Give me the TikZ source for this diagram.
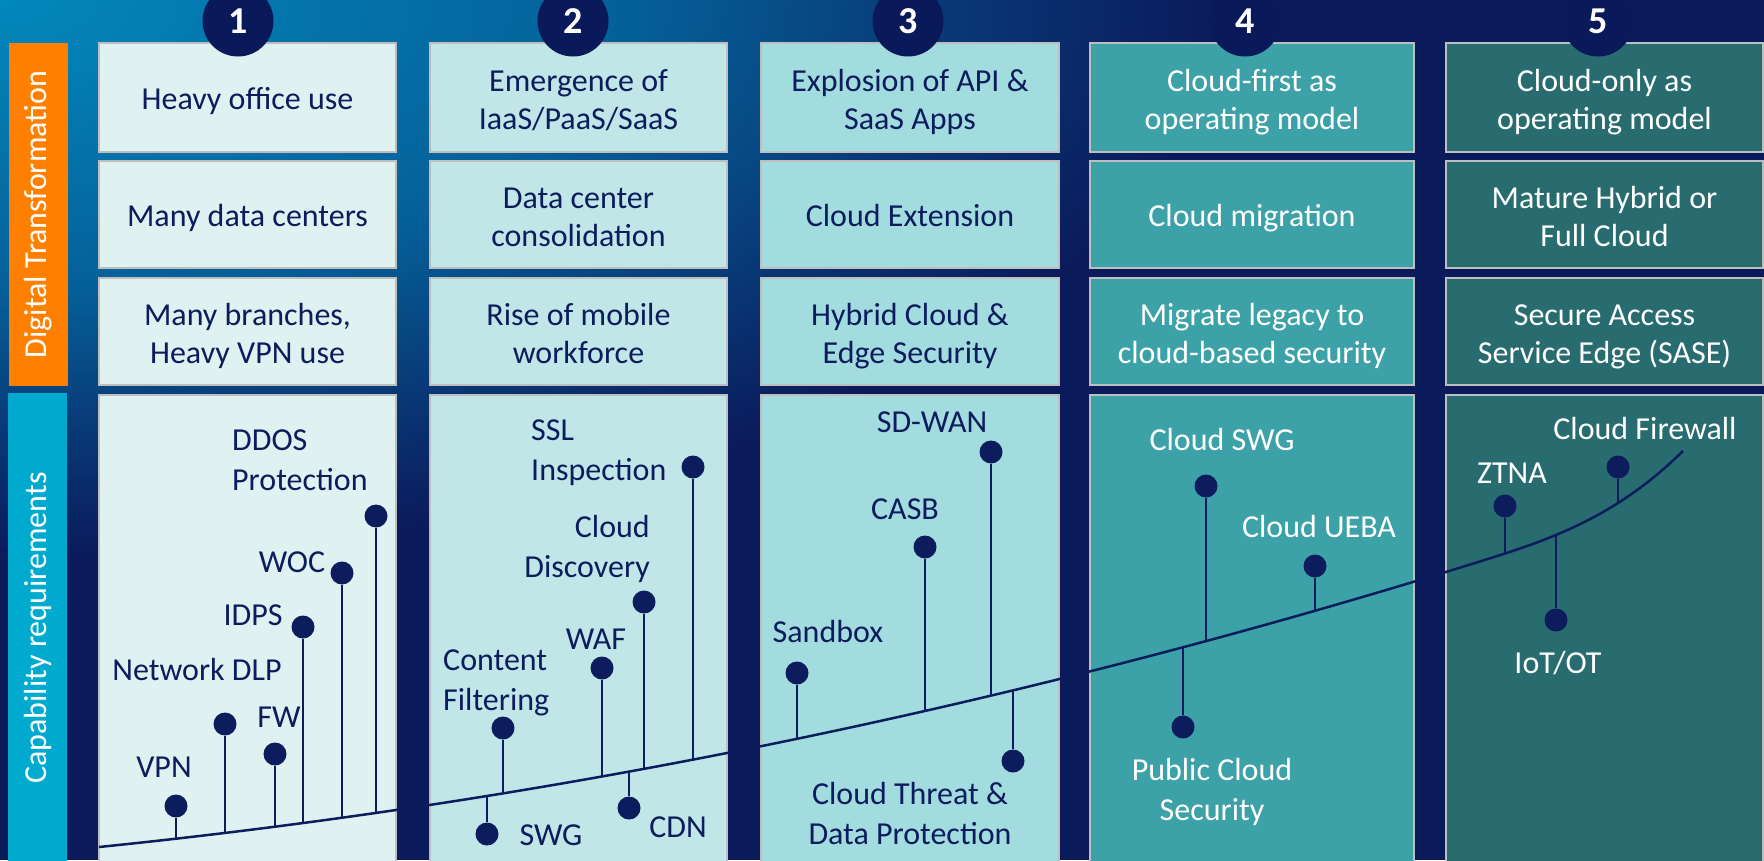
\documentclass[tikz,border=0pt]{standalone}
\usepackage{fontspec}
\setmainfont{Carlito}
\definecolor{bgA}{RGB}{2,136,188}
\definecolor{bgB}{RGB}{11,26,91}
\colorlet{bgM1}{bgA!63!bgB}
\colorlet{bgM2}{bgA!27!bgB}
\definecolor{ink}{RGB}{12,28,92}
\definecolor{badgec}{RGB}{10,25,90}
\definecolor{rim}{RGB}{190,190,190}
\definecolor{c1}{RGB}{223,242,241}
\definecolor{c2}{RGB}{192,230,231}
\definecolor{c3}{RGB}{162,220,223}
\definecolor{c4}{RGB}{60,162,167}
\definecolor{c5}{RGB}{40,108,112}
\definecolor{barorange}{RGB}{255,128,0}
\definecolor{barcyan}{RGB}{0,170,206}
% glow from the upper left corner; the path's extent maps to 25bp
\pgfdeclareradialshading{bgglow}{\pgfpoint{0bp}{0bp}}{color(0bp)=(bgA); color(13bp)=(bgM1); color(19.5bp)=(bgM2); color(25bp)=(bgB); color(50bp)=(bgB)}
\begin{document}
\begin{tikzpicture}[x=1pt,y=-1pt,
  declare function={gy(\t)=847-10.21*((\t-99)/100)-0.758*((\t-99)/100)^2-5.2*(max(0,(\t-99)/100-13.8))^3;},
  cell/.style={draw=rim, line width=2.5pt, inner sep=2pt, align=center, font=\fontsize{32}{38}\selectfont},
  single/.style={text height=24pt, text depth=0pt},
  double/.style={text height=64.6pt, text depth=0pt},
  k1/.style={fill=c1, text=ink, minimum width=297pt},
  k2/.style={fill=c2, text=ink, minimum width=297pt},
  k3/.style={fill=c3, text=ink, minimum width=298pt},
  k4/.style={fill=c4, text=white, minimum width=324pt},
  k5/.style={fill=c5, text=white, minimum width=317pt},
  r1/.style={minimum height=109pt},
  r2/.style={minimum height=107pt},
  r3/.style={minimum height=107pt},
  r4/.style={minimum height=471pt},
  sidebar/.style={rotate=90, inner sep=0pt, text=white, font=\fontsize{32}{38}\selectfont},
  badge/.style={circle, fill=badgec, minimum size=71pt, inner sep=0pt, text=white, font=\bfseries\fontsize{38}{38}\selectfont},
  dot/.style={circle, fill=ink, minimum size=23pt, inner sep=0pt},
  stem/.style={draw=ink, line width=2pt},
  trend/.style={draw=ink, line width=2.5pt},
  lbl/.style={inner sep=0pt, font=\fontsize{32}{40}\selectfont},
  one/.style={text height=21pt, text depth=0pt},
  dk/.style={text=ink},
  wt/.style={text=white}]

\useasboundingbox (0,0) rectangle (1764,860);
\clip (0,0) rectangle (1764,860);

% background glow
\fill[bgB] (0,0) rectangle (1764,860);
\shade[shading=bgglow] (0,0) ellipse (1220 and 560);

% side bars
\node[sidebar, fill=barorange, minimum width=343pt, minimum height=59pt] (dt) at (38.5,214.5) {Digital Transformation};
\node[sidebar, fill=barcyan, minimum width=470pt, minimum height=59pt] (cr) at (37.5,628) {Capability requirements};

% stage columns
\node[cell,k1,r1,single] (a1) at (247.5,97.5) {Heavy office use};
\node[cell,k1,r2,single] (b1) at (247.5,214.5) {Many data centers};
\node[cell,k1,r3,double] (c1) at (247.5,331.5) {Many branches,\\Heavy VPN use};
\node[cell,k1,r4] (p1) at (247.5,630.5) {};

\node[cell,k2,r1,double] (a2) at (578.5,97.5) {Emergence of\\IaaS/PaaS/SaaS};
\node[cell,k2,r2,double] (b2) at (578.5,214.5) {Data center\\consolidation};
\node[cell,k2,r3,double] (c2) at (578.5,331.5) {Rise of mobile\\workforce};
\node[cell,k2,r4] (p2) at (578.5,630.5) {};

\node[cell,k3,r1,double] (a3) at (910,97.5) {Explosion of API \&\\SaaS Apps};
\node[cell,k3,r2,single] (b3) at (910,214.5) {Cloud Extension};
\node[cell,k3,r3,double] (c3) at (910,331.5) {Hybrid Cloud \&\\Edge Security};
\node[cell,k3,r4] (p3) at (910,630.5) {};

\node[cell,k4,r1,double] (a4) at (1252,97.5) {Cloud-first as\\operating model};
\node[cell,k4,r2,single] (b4) at (1252,214.5) {Cloud migration};
\node[cell,k4,r3,double] (c4) at (1252,331.5) {Migrate legacy to\\cloud-based security};
\node[cell,k4,r4] (p4) at (1252,630.5) {};

\node[cell,k5,r1,double] (a5) at (1604.5,97.5) {Cloud-only as\\operating model};
\node[cell,k5,r2,double] (b5) at (1604.5,214.5) {Mature Hybrid or\\Full Cloud};
\node[cell,k5,r3,double] (c5) at (1604.5,331.5) {Secure Access\\Service Edge (SASE)};
\node[cell,k5,r4] (p5) at (1604.5,630.5) {};

% maturity curve
\draw[trend] plot[domain=99:1683, samples=180, variable=\t] (\t,{gy(\t)});

% points where the stems meet the curve
\foreach \n/\x in {vpn/176, dlp/225, fw/275, idps/303, woc/342, ddos/376,
                   swg/487, cf/503, waf/602, cdn/629, cd/644, ssl/693,
                   sb/797, casb/925, sdwan/991, ctdp/1013,
                   pcs/1183, cswg/1206, ueba/1315,
                   ztna/1505, iot/1556, cfw/1618}
  \coordinate (b-\n) at (\x,{gy(\x)});

% capability dots
\node[dot] (d-vpn)  at (176,806) {};
\node[dot] (d-dlp)  at (225,724) {};
\node[dot] (d-fw)   at (275,754) {};
\node[dot] (d-idps) at (303,627) {};
\node[dot] (d-woc)  at (342,573) {};
\node[dot] (d-ddos) at (376,516) {};
\node[dot] (d-swg)  at (487,834) {};
\node[dot] (d-cf)   at (503,728) {};
\node[dot] (d-waf)  at (602,668) {};
\node[dot] (d-cdn)  at (629,808) {};
\node[dot] (d-cd)   at (644,602) {};
\node[dot] (d-ssl)  at (693,467) {};
\node[dot] (d-sb)   at (797,673) {};
\node[dot] (d-casb) at (925,547) {};
\node[dot] (d-sdwan) at (991,452) {};
\node[dot] (d-ctdp) at (1013,761) {};
\node[dot] (d-pcs)  at (1183,727) {};
\node[dot] (d-cswg) at (1206,486) {};
\node[dot] (d-ueba) at (1315,566) {};
\node[dot] (d-ztna) at (1505,506) {};
\node[dot] (d-iot)  at (1556,620) {};
\node[dot] (d-cfw)  at (1618,467) {};

% stems
\foreach \n in {vpn, dlp, fw, idps, woc, ddos, swg, cf, waf, cdn, cd, ssl,
                sb, casb, sdwan, ctdp, pcs, cswg, ueba, ztna, iot, cfw}
  \draw[stem] (d-\n) -- (b-\n);

% capability labels
\node[lbl,one,dk] (l-vpn)  at (164,767) {VPN};
\node[lbl,one,dk] (l-dlp)  at (197,670) {Network DLP};
\node[lbl,one,dk] (l-fw)   at (279,717) {FW};
\node[lbl,one,dk] (l-idps) at (253,615) {IDPS};
\node[lbl,one,dk] (l-woc)  at (292,562) {WOC};
\node[lbl,dk,align=left,anchor=west] (l-ddos) at (232,460) {DDOS\\Protection};

\node[lbl,dk,align=left,anchor=west] (l-cf) at (443,683) {Content\\Filtering};
\node[lbl,one,dk] (l-swg) at (551,835) {SWG};
\node[lbl,one,dk] (l-waf) at (596,639) {WAF};
\node[lbl,one,dk] (l-cdn) at (678,827) {CDN};
\node[lbl,dk,align=right,anchor=east] (l-cd) at (650,549) {Cloud\\Discovery};
\node[lbl,dk,align=left,anchor=west] (l-ssl) at (531,453) {SSL\\Inspection};

\node[lbl,one,dk] (l-sb)    at (828,632) {Sandbox};
\node[lbl,one,dk] (l-casb)  at (905,509) {CASB};
\node[lbl,one,dk] (l-sdwan) at (932,422) {SD-WAN};
\node[lbl,dk,align=center] (l-ctdp) at (910,813) {Cloud Threat \&\\Data Protection};

\node[lbl,one,wt] (l-cswg) at (1222,440) {Cloud SWG};
\node[lbl,one,wt] (l-ueba) at (1319,527) {Cloud UEBA};
\node[lbl,wt,align=center] (l-pcs) at (1212,792) {Public Cloud\\Security};

\node[lbl,one,wt] (l-ztna) at (1512,473) {ZTNA};
\node[lbl,one,wt] (l-cfw)  at (1645,429) {Cloud Firewall};
\node[lbl,one,wt] (l-iot)  at (1558,663) {IoT/OT};

% stage numbers
\node[badge] (n1) at (238,21) {1};
\node[badge] (n2) at (573,21) {2};
\node[badge] (n3) at (908,21) {3};
\node[badge] (n4) at (1245,21) {4};
\node[badge] (n5) at (1598,21) {5};
\end{tikzpicture}
\end{document}
